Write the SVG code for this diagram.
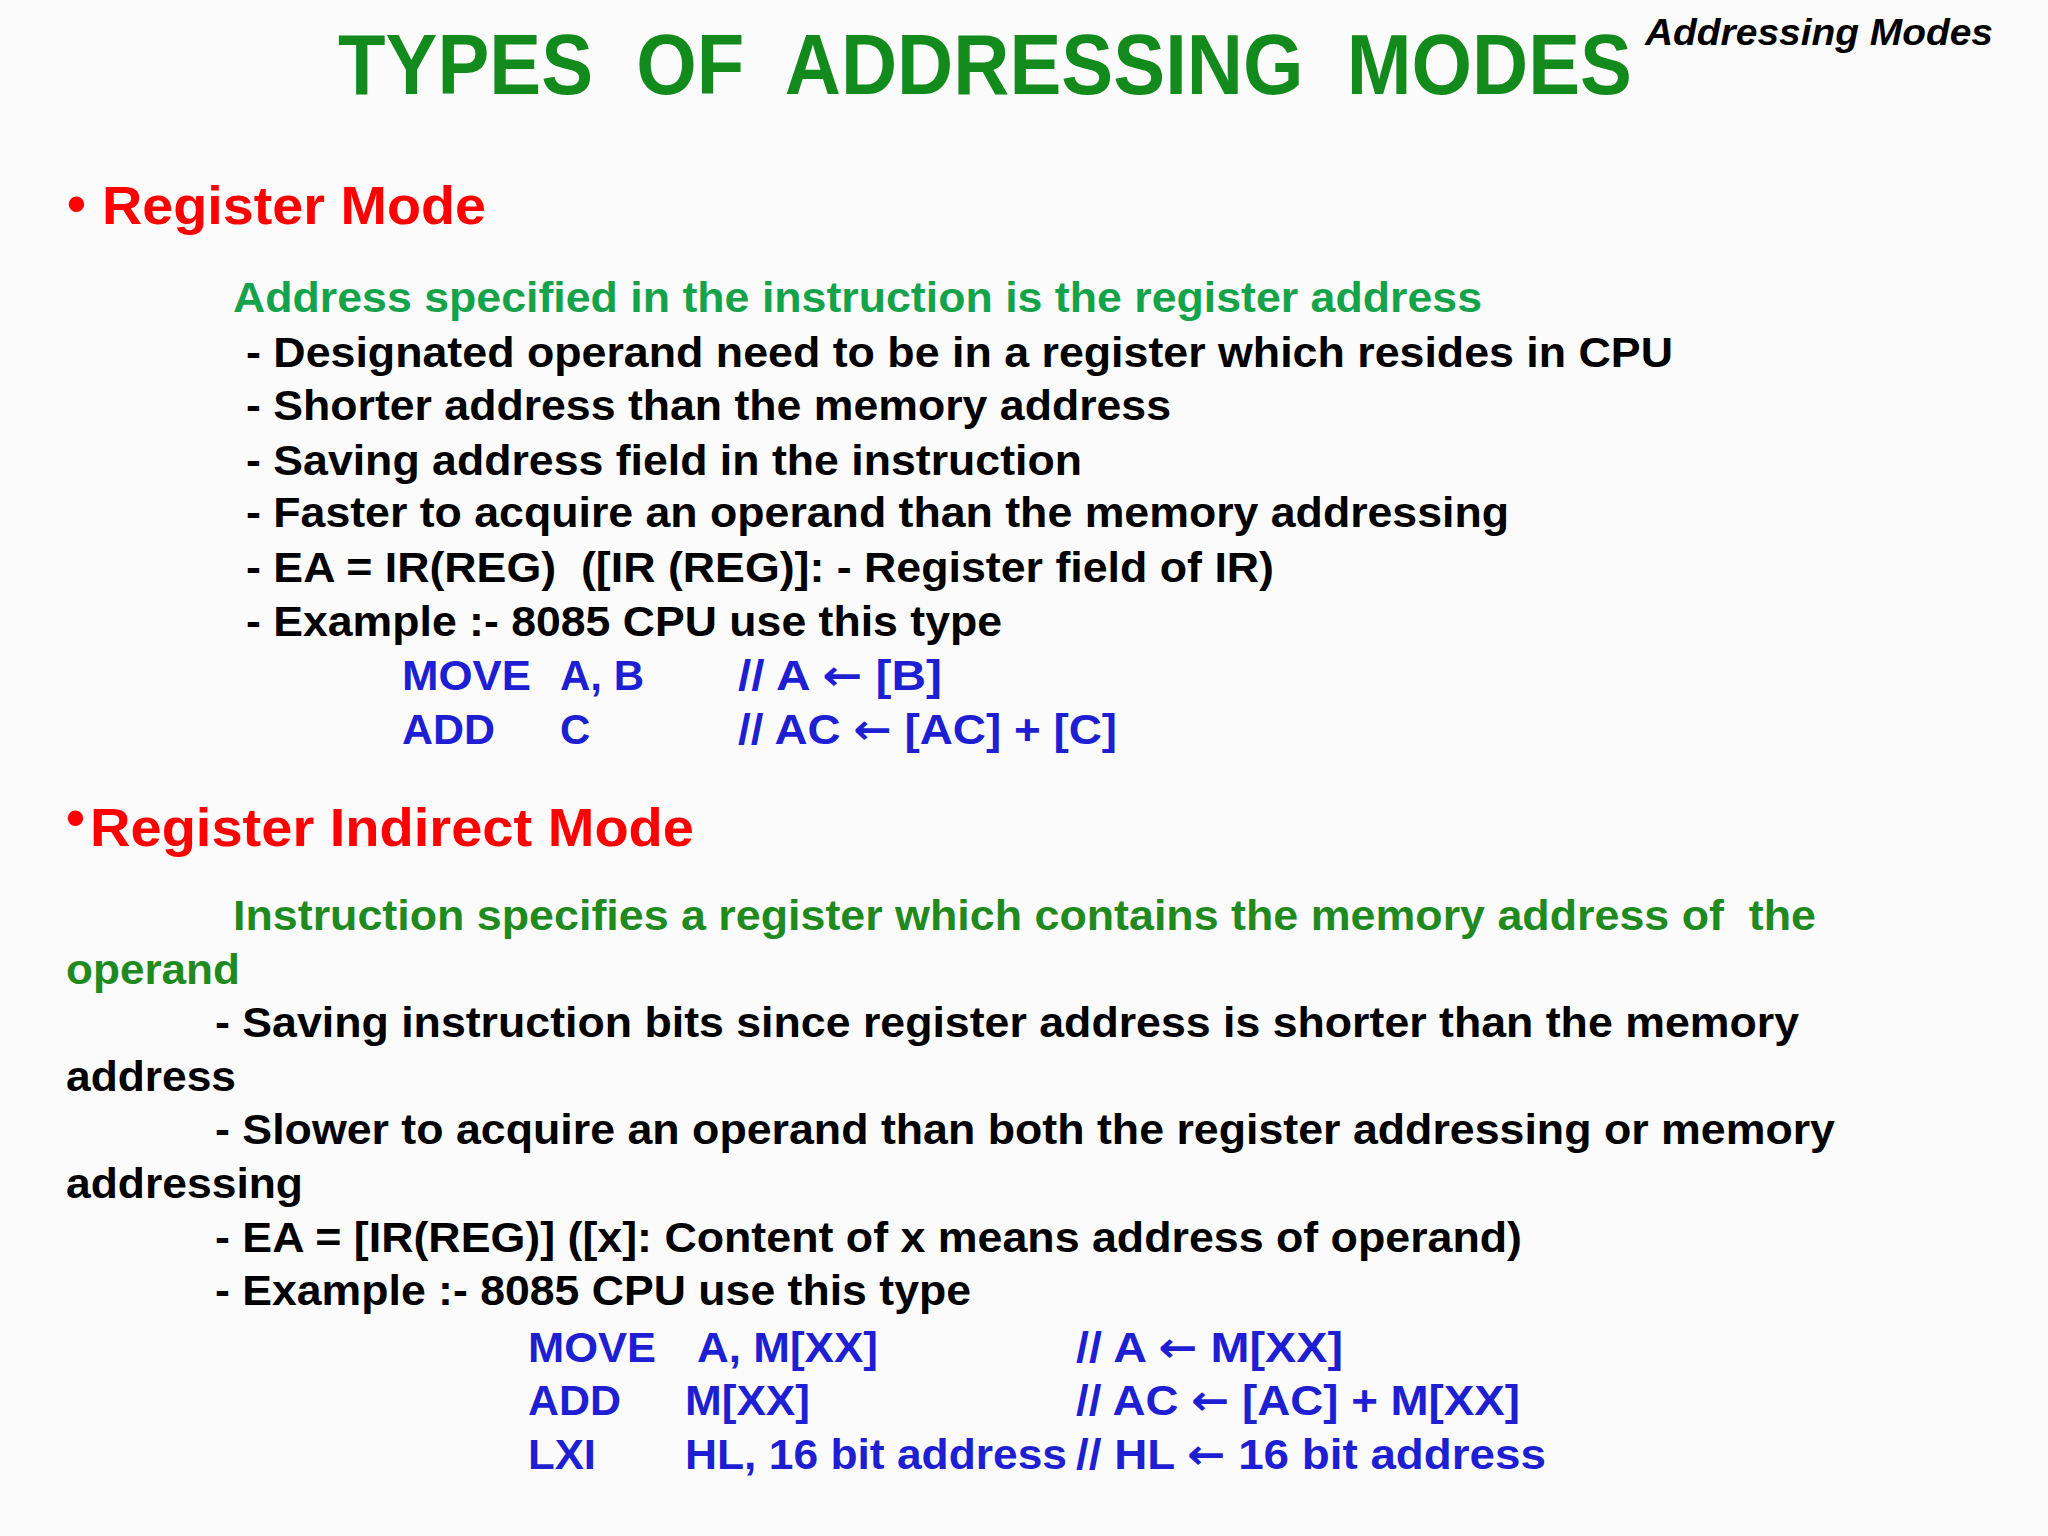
<svg xmlns="http://www.w3.org/2000/svg" width="2048" height="1536" viewBox="0 0 2048 1536">
<style>
text{font-family:"Liberation Sans",Arial,sans-serif;font-weight:bold}
.t{fill:#138a1c;font-size:86px}
.h{fill:#f00;font-size:54px}
.g{fill:#14a34a;font-size:42px}
.g2{fill:#1f8a1f;font-size:42px}
.k{fill:#000;font-size:42px}
.b{fill:#1e1ed2;font-size:42px}
.a{font-family:"DejaVu Sans",sans-serif}
</style>
<rect width="2048" height="1536" fill="#fbfbfb"/>
<text class="t" x="338" y="94" textLength="1294" lengthAdjust="spacingAndGlyphs" xml:space="preserve">TYPES  OF  ADDRESSING  MODES</text>
<text x="1645" y="45" font-size="37" font-style="italic" textLength="348" lengthAdjust="spacingAndGlyphs">Addressing Modes</text>
<g id="register-mode">
<text class="h" x="67" y="222" font-size="36">•</text>
<text class="h" x="102" y="224" textLength="384" lengthAdjust="spacingAndGlyphs">Register Mode</text>
<text class="g" x="233" y="312" textLength="1249" lengthAdjust="spacingAndGlyphs">Address specified in the instruction is the register address</text>
<text class="k" x="246" y="367" textLength="1427" lengthAdjust="spacingAndGlyphs">- Designated operand need to be in a register which resides in CPU</text>
<text class="k" x="246" y="420" textLength="925" lengthAdjust="spacingAndGlyphs">- Shorter address than the memory address</text>
<text class="k" x="246" y="475" textLength="836" lengthAdjust="spacingAndGlyphs">- Saving address field in the instruction</text>
<text class="k" x="246" y="527" textLength="1263" lengthAdjust="spacingAndGlyphs">- Faster to acquire an operand than the memory addressing</text>
<text class="k" x="246" y="582" xml:space="preserve" textLength="1028" lengthAdjust="spacingAndGlyphs">- EA = IR(REG)  ([IR (REG)]: - Register field of IR)</text>
<text class="k" x="246" y="636" textLength="756" lengthAdjust="spacingAndGlyphs">- Example :- 8085 CPU use this type</text>
<text class="b" x="402" y="690" textLength="129" lengthAdjust="spacingAndGlyphs">MOVE</text><text class="b" x="560" y="690">A, B</text><text class="b" x="738" y="690" textLength="204" lengthAdjust="spacingAndGlyphs">// A <tspan class="a">←</tspan> [B]</text>
<text class="b" x="402" y="744" textLength="93" lengthAdjust="spacingAndGlyphs">ADD</text><text class="b" x="560" y="744">C</text><text class="b" x="738" y="744" textLength="379" lengthAdjust="spacingAndGlyphs">// AC <tspan class="a">←</tspan> [AC] + [C]</text>
</g>
<g id="register-indirect-mode">
<text class="h" x="66" y="836" font-size="24">•</text>
<text class="h" x="90" y="846" textLength="604" lengthAdjust="spacingAndGlyphs">Register Indirect Mode</text>
<text class="g2" x="233" y="930" xml:space="preserve" textLength="1583" lengthAdjust="spacingAndGlyphs">Instruction specifies a register which contains the memory address of  the</text>
<text class="g2" x="66" y="984" textLength="174" lengthAdjust="spacingAndGlyphs">operand</text>
<text class="k" x="215" y="1037" textLength="1584" lengthAdjust="spacingAndGlyphs">- Saving instruction bits since register address is shorter than the memory</text>
<text class="k" x="66" y="1091" textLength="170" lengthAdjust="spacingAndGlyphs">address</text>
<text class="k" x="215" y="1144" textLength="1620" lengthAdjust="spacingAndGlyphs">- Slower to acquire an operand than both the register addressing or memory</text>
<text class="k" x="66" y="1198" textLength="237" lengthAdjust="spacingAndGlyphs">addressing</text>
<text class="k" x="215" y="1252" textLength="1307" lengthAdjust="spacingAndGlyphs">- EA = [IR(REG)] ([x]: Content of x means address of operand)</text>
<text class="k" x="215" y="1305" textLength="756" lengthAdjust="spacingAndGlyphs">- Example :- 8085 CPU use this type</text>
<text class="b" x="528" y="1362" textLength="128" lengthAdjust="spacingAndGlyphs">MOVE</text><text class="b" x="697" y="1362" textLength="181" lengthAdjust="spacingAndGlyphs">A, M[XX]</text><text class="b" x="1076" y="1362" textLength="267" lengthAdjust="spacingAndGlyphs">// A <tspan class="a">←</tspan> M[XX]</text>
<text class="b" x="528" y="1415" textLength="93" lengthAdjust="spacingAndGlyphs">ADD</text><text class="b" x="685" y="1415" textLength="125" lengthAdjust="spacingAndGlyphs">M[XX]</text><text class="b" x="1076" y="1415" textLength="444" lengthAdjust="spacingAndGlyphs">// AC <tspan class="a">←</tspan> [AC] + M[XX]</text>
<text class="b" x="528" y="1469" textLength="68" lengthAdjust="spacingAndGlyphs">LXI</text><text class="b" x="685" y="1469" textLength="382" lengthAdjust="spacingAndGlyphs">HL, 16 bit address</text><text class="b" x="1076" y="1469" textLength="470" lengthAdjust="spacingAndGlyphs">// HL <tspan class="a">←</tspan> 16 bit address</text>
</g>
</svg>
